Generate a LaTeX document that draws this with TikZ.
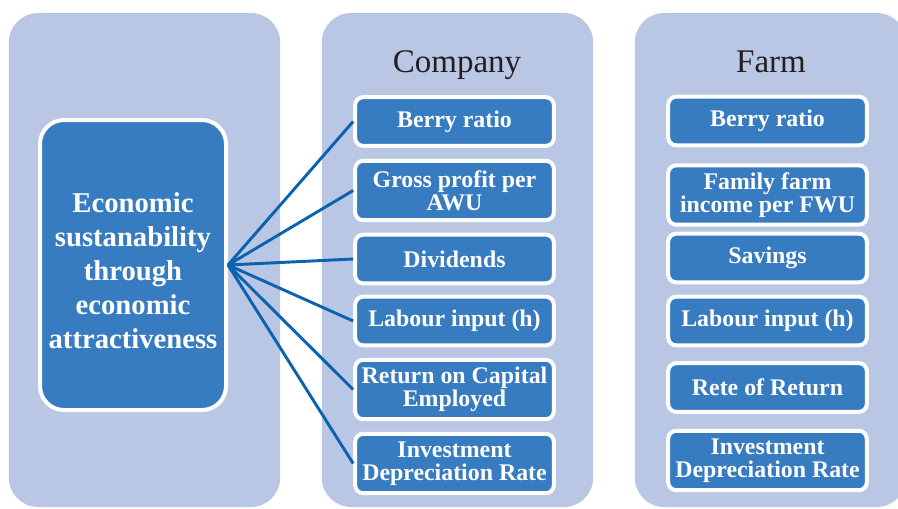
\documentclass[tikz,border=0pt]{standalone}
\usepackage{fontspec}
\setmainfont{Liberation Serif}
\usepackage{tikz}
\usetikzlibrary{positioning}
\definecolor{panelblue}{RGB}{185,199,228}
\definecolor{boxblue}{RGB}{55,123,192}
\definecolor{linkblue}{RGB}{10,98,176}
\definecolor{titlegray}{RGB}{35,31,32}

\begin{document}
\begin{tikzpicture}[x=0.75pt,y=-0.75pt,semithick]
\tikzstyle{panel node}=[rectangle,fill=panelblue,rounded corners=22pt,minimum width=203.5pt,minimum height=370.5pt,inner sep=0]
\tikzstyle{title node}=[text=titlegray,font=\fontsize{24.75}{30}\selectfont,inner sep=0,anchor=base]

\tikzset{
	main node/.style={rectangle,rounded corners=18pt,draw=white,line width=3pt,fill=boxblue,text=white,
		font=\bfseries\fontsize{21.5}{25.5}\selectfont,align=flush center,text width=136pt,inner xsep=1.75pt,
		minimum width=139.5pt,minimum height=217.5pt,execute at begin node={\rule{0pt}{24pt}}},
	item node/.style={rectangle,rounded corners=6pt,draw=white,line width=3pt,fill=boxblue,text=white,
		font=\bfseries\fontsize{17.9}{17.25}\selectfont,align=flush center,text width=146pt,inner xsep=1.5pt,
		inner ysep=0pt,minimum width=149pt,minimum height=36.5pt},
	tall node/.style={item node,minimum height=44.5pt},
	link/.style={draw=linkblue,line width=2.2pt}
}
\useasboundingbox (0,0) rectangle (898,508);

% background panels
\node[panel node] (P1) at (144.5,260) {};
\node[panel node] (P2) at (457.5,260) {};
\node[panel node] (P3) at (770.5,260) {};

\node[title node] (company) at (457,72) {Company};
\node[title node] (farm) at (771,72) {Farm};

\node[main node] (E) at (133,265) {Economic sustanability through economic attractiveness};

% company column
\node[item node] (c1) at (454.5,121.5) {Berry ratio};
\node[tall node] (c2) at (454.5,190.5) {Gross profit per AWU};
\node[item node] (c3) at (454.5,259) {Dividends};
\node[item node] (c4) at (454.5,321) {Labour input (h)};
\node[tall node] (c5) at (454.5,389.5) {Return on Capital Employed};
\node[tall node] (c6) at (454.5,463.5) {Investment Depreciation Rate};

% farm column
\node[item node] (f1) at (767.5,121) {Berry ratio};
\node[tall node] (f2) at (767.5,195) {Family farm income per FWU};
\node[item node] (f3) at (767.5,258) {Savings};
\node[item node] (f4) at (767.5,321) {Labour input (h)};
\node[item node] (f5) at (767.5,387.5) {Rete of Return};
\node[tall node] (f6) at (767.5,460.5) {Investment Depreciation Rate};

\path[link] (E.east) edge (c1.west)
		(E.east) edge (c2.west)
		(E.east) edge (c3.west)
		(E.east) edge (c4.west)
		(E.east) edge (c5.west)
		(E.east) edge (c6.west)
;
\end{tikzpicture}
\end{document}
